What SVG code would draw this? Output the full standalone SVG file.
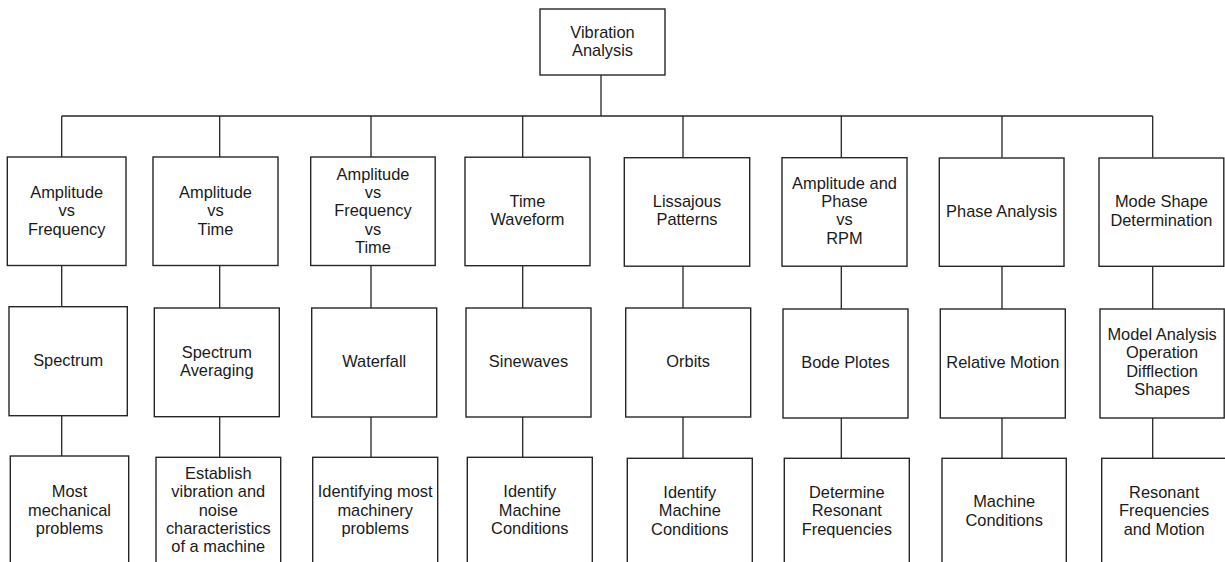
<svg xmlns="http://www.w3.org/2000/svg" width="1225" height="562" viewBox="0 0 1225 562">
<style>
  .box { fill: #ffffff; stroke: #262626; stroke-width: 1.4; }
  .conn { fill: none; stroke: #262626; stroke-width: 1.3; }
  text { font-family: "Liberation Sans", Arial, sans-serif; font-size: 16.4px; fill: #1a1a1a; text-anchor: middle; }
</style>
<rect width="1225" height="562" fill="#ffffff"/>
<g id="connectors">
  <path class="conn" d="M601,75 V116 M61.7,116 H1152.7"/>
  <path class="conn" d="M61.7,116 V157.5 M219.7,116 V157.5 M371,116 V157.5 M522.7,116 V157.5 M683,116 V157.5 M841.3,116 V157.5 M1002,116 V157.5 M1152.7,116 V157.5"/>
  <path class="conn" d="M61.7,265.5 V307 M219.7,265.5 V308 M371,265.5 V308 M522.7,265.5 V308 M683,266 V308 M841.3,266 V309 M1002,266 V309 M1152.7,266 V309"/>
  <path class="conn" d="M61.7,416 V456 M219.7,417 V457.5 M371,417 V457.5 M522.7,417 V457.5 M683,417 V458 M841.3,418 V458 M1002,418 V458 M1152.7,418 V458"/>
</g>
<g id="root">
  <rect class="box" x="540" y="9" width="125" height="66"/>
  <text x="602.5" y="37.5">Vibration</text>
  <text x="602.5" y="56">Analysis</text>
</g>
<g id="n1">
  <rect class="box" x="7.3" y="157" width="118.7" height="108.5"/>
  <text x="66.7"><tspan x="66.7" y="197.9">Amplitude</tspan><tspan x="66.7" y="216.2">vs</tspan><tspan x="66.7" y="234.5">Frequency</tspan></text>
</g>
<g id="n2">
  <rect class="box" x="153" y="157" width="125" height="108.5"/>
  <text><tspan x="215.5" y="197.9">Amplitude</tspan><tspan x="215.5" y="216.2">vs</tspan><tspan x="215.5" y="234.5">Time</tspan></text>
</g>
<g id="n3">
  <rect class="box" x="310.7" y="157" width="124.5" height="108.5"/>
  <text><tspan x="373" y="179.6">Amplitude</tspan><tspan x="373" y="197.9">vs</tspan><tspan x="373" y="216.2">Frequency</tspan><tspan x="373" y="234.5">vs</tspan><tspan x="373" y="252.8">Time</tspan></text>
</g>
<g id="n4">
  <rect class="box" x="465" y="157.2" width="125" height="108.5"/>
  <text><tspan x="527.5" y="207">Time</tspan><tspan x="527.5" y="225.3">Waveform</tspan></text>
</g>
<g id="n5">
  <rect class="box" x="624.3" y="157.7" width="125.4" height="108.5"/>
  <text><tspan x="687" y="207">Lissajous</tspan><tspan x="687" y="225.3">Patterns</tspan></text>
</g>
<g id="n6">
  <rect class="box" x="782" y="157.7" width="125" height="108.5"/>
  <text><tspan x="844.5" y="188.8">Amplitude and</tspan><tspan x="844.5" y="207.1">Phase</tspan><tspan x="844.5" y="225.4">vs</tspan><tspan x="844.5" y="243.7">RPM</tspan></text>
</g>
<g id="n7">
  <rect class="box" x="939.3" y="158" width="124.7" height="108.3"/>
  <text x="1001.7" y="216.5">Phase Analysis</text>
</g>
<g id="n8">
  <rect class="box" x="1099" y="158" width="124.8" height="108.3"/>
  <text><tspan x="1161.4" y="207.3">Mode Shape</tspan><tspan x="1161.4" y="225.6">Determination</tspan></text>
</g>
<g id="m1">
  <rect class="box" x="9" y="306.7" width="118.3" height="109"/>
  <text x="68.2" y="366">Spectrum</text>
</g>
<g id="m2">
  <rect class="box" x="154.3" y="308" width="125" height="108.7"/>
  <text><tspan x="216.8" y="357.6">Spectrum</tspan><tspan x="216.8" y="375.9">Averaging</tspan></text>
</g>
<g id="m3">
  <rect class="box" x="311.7" y="308" width="125" height="109"/>
  <text x="374.2" y="367">Waterfall</text>
</g>
<g id="m4">
  <rect class="box" x="466" y="308" width="125" height="109"/>
  <text x="528.5" y="367">Sinewaves</text>
</g>
<g id="m5">
  <rect class="box" x="625.7" y="308" width="125" height="109"/>
  <text x="688.2" y="367">Orbits</text>
</g>
<g id="m6">
  <rect class="box" x="783" y="309" width="125" height="109"/>
  <text x="845.5" y="368">Bode Plotes</text>
</g>
<g id="m7">
  <rect class="box" x="940.3" y="309" width="125" height="109"/>
  <text x="1002.8" y="368">Relative Motion</text>
</g>
<g id="m8">
  <rect class="box" x="1100" y="309" width="124.2" height="109"/>
  <text><tspan x="1162.1" y="340">Model Analysis</tspan><tspan x="1162.1" y="358.3">Operation</tspan><tspan x="1162.1" y="376.6">Difflection</tspan><tspan x="1162.1" y="394.9">Shapes</tspan></text>
</g>
<g id="b1">
  <rect class="box" x="10.3" y="456" width="118.4" height="110"/>
  <text><tspan x="69.5" y="497.4">Most</tspan><tspan x="69.5" y="515.7">mechanical</tspan><tspan x="69.5" y="534">problems</tspan></text>
</g>
<g id="b2">
  <rect class="box" x="156" y="457.3" width="124.7" height="110"/>
  <text><tspan x="218.3" y="479.1">Establish</tspan><tspan x="218.3" y="497.4">vibration and</tspan><tspan x="218.3" y="515.7">noise</tspan><tspan x="218.3" y="534">characteristics</tspan><tspan x="218.3" y="552.3">of a machine</tspan></text>
</g>
<g id="b3">
  <rect class="box" x="312.7" y="457.3" width="125" height="110"/>
  <text><tspan x="375.2" y="497.4">Identifying most</tspan><tspan x="375.2" y="515.7">machinery</tspan><tspan x="375.2" y="534">problems</tspan></text>
</g>
<g id="b4">
  <rect class="box" x="467.3" y="457.3" width="125" height="110"/>
  <text><tspan x="529.8" y="497.4">Identify</tspan><tspan x="529.8" y="515.7">Machine</tspan><tspan x="529.8" y="534">Conditions</tspan></text>
</g>
<g id="b5">
  <rect class="box" x="627.3" y="458.3" width="125" height="110"/>
  <text><tspan x="689.8" y="498">Identify</tspan><tspan x="689.8" y="516.3">Machine</tspan><tspan x="689.8" y="534.6">Conditions</tspan></text>
</g>
<g id="b6">
  <rect class="box" x="784.3" y="458.3" width="125" height="110"/>
  <text><tspan x="846.8" y="498">Determine</tspan><tspan x="846.8" y="516.3">Resonant</tspan><tspan x="846.8" y="534.6">Frequencies</tspan></text>
</g>
<g id="b7">
  <rect class="box" x="942" y="458.3" width="124.3" height="110"/>
  <text><tspan x="1004.2" y="507.3">Machine</tspan><tspan x="1004.2" y="525.6">Conditions</tspan></text>
</g>
<g id="b8">
  <rect class="box" x="1101.7" y="458.3" width="125" height="110"/>
  <text><tspan x="1164.2" y="498">Resonant</tspan><tspan x="1164.2" y="516.3">Frequencies</tspan><tspan x="1164.2" y="534.6">and Motion</tspan></text>
</g>
</svg>
